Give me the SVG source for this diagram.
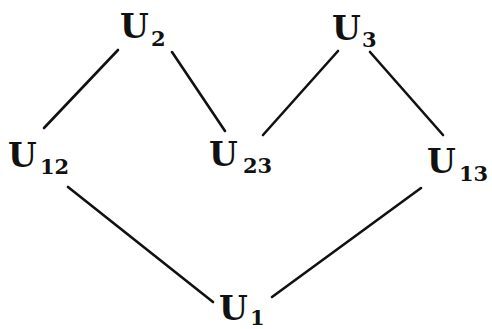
<svg xmlns="http://www.w3.org/2000/svg" width="492" height="329" viewBox="0 0 492 329">
<style>
.u{font-family:"DejaVu Serif","Liberation Serif",serif;font-size:33px;font-weight:bold;fill:#111}
.s{font-family:"DejaVu Serif","Liberation Serif",serif;font-size:21px;font-weight:bold;fill:#111}
.e{stroke:#111;stroke-width:2.6;stroke-linecap:round;fill:none}
</style>
<rect width="492" height="329" fill="#fff"/>
<g id="edges">
<line class="e" x1="118" y1="50" x2="44" y2="128"/>
<line class="e" x1="172" y1="52" x2="225" y2="131"/>
<line class="e" x1="338" y1="51" x2="263" y2="135"/>
<line class="e" x1="370" y1="52" x2="443" y2="135"/>
<line class="e" x1="68" y1="187" x2="213" y2="302"/>
<line class="e" x1="421" y1="188" x2="272" y2="297"/>
</g>
<g id="U2"><text class="u" x="120" y="38">U</text><text class="s" x="151" y="46">2</text></g>
<g id="U3"><text class="u" x="332" y="40">U</text><text class="s" x="362" y="47">3</text></g>
<g id="U12"><text class="u" x="8" y="167">U</text><text class="s" x="40" y="174">12</text></g>
<g id="U23"><text class="u" x="209" y="166">U</text><text class="s" x="243" y="173">23</text></g>
<g id="U13"><text class="u" x="427" y="173">U</text><text class="s" x="459" y="181">13</text></g>
<g id="U1"><text class="u" x="219" y="320">U</text><text class="s" x="250" y="325">1</text></g>
</svg>
